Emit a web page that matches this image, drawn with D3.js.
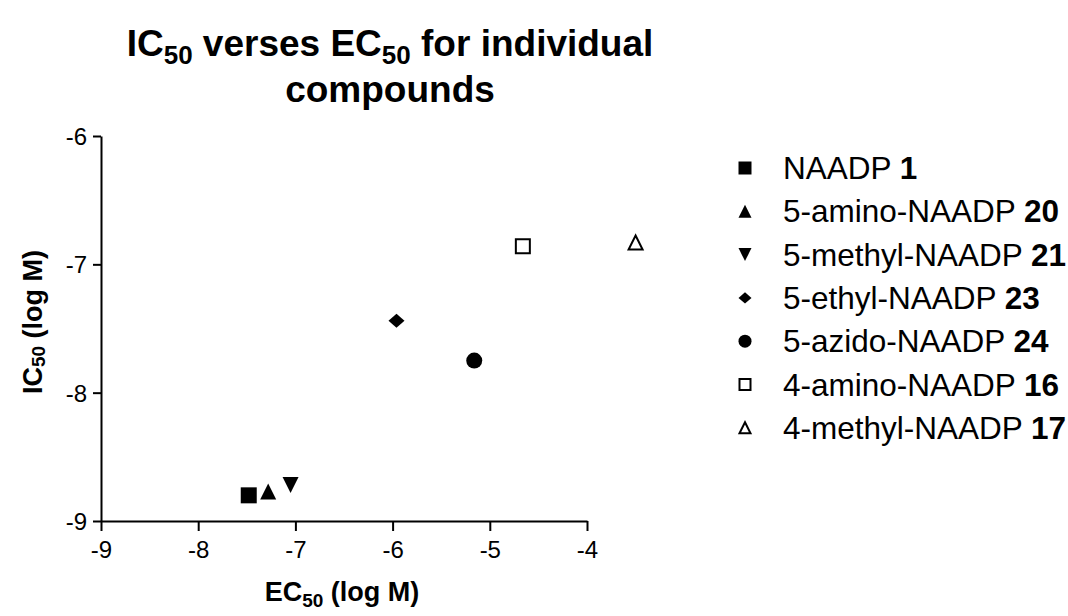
<!DOCTYPE html>
<html>
<head>
<meta charset="utf-8">
<script src="https://cdn.jsdelivr.net/npm/d3@7"></script>
<style>
body { margin: 0; background: #fff; }
text { font-family: Arial, "Liberation Sans", Helvetica, sans-serif; fill: #000; }
</style>
</head>
<body>
<div id="chart"></div>
<script>
var compounds = ["NAADP", "5-amino-NAADP", "5-methyl-NAADP", "5-ethyl-NAADP", "5-azido-NAADP", "4-amino-NAADP", "4-methyl-NAADP"];
var numbers   = ["1", "20", "21", "23", "24", "16", "17"];
var ec50      = [-7.48, -7.28, -7.05, -5.96, -5.16, -4.66, -3.50];
var ic50      = [-8.80, -8.77, -8.72, -7.44, -7.75, -6.86, -6.83];
var shapes    = ["square", "triUp", "triDown", "diamond", "circle", "squareOpen", "triOpen"];
var xTicks    = [-9, -8, -7, -6, -5, -4];
var yTicks    = [-9, -8, -7, -6];

var width = 1068, height = 616;

var svg = d3.select("#chart").append("svg")
    .attr("width", width)
    .attr("height", height);

var x = d3.scaleLinear().domain([-9, -4]).range([101, 587]),
    y = d3.scaleLinear().domain([-9, -6]).range([521, 136]);

// marker shapes, size = side of bounding box squared
var sym = {
  square: {draw: function(c, s) { var r = Math.sqrt(s) / 2; c.rect(-r, -r, 2 * r, 2 * r); }},
  triUp: {draw: function(c, s) { var r = Math.sqrt(s) / 2; c.moveTo(0, -r); c.lineTo(r, r); c.lineTo(-r, r); c.closePath(); }},
  triDown: {draw: function(c, s) { var r = Math.sqrt(s) / 2; c.moveTo(-r, -r); c.lineTo(r, -r); c.lineTo(0, r); c.closePath(); }},
  diamond: {draw: function(c, s) { var r = Math.sqrt(s) / 2, h = r * 0.88; c.moveTo(0, -h); c.lineTo(r, 0); c.lineTo(0, h); c.lineTo(-r, 0); c.closePath(); }},
  circle: {draw: function(c, s) { var r = Math.sqrt(s) / 2; c.moveTo(r, 0); c.arc(0, 0, r, 0, 2 * Math.PI); }}
};
sym.squareOpen = sym.square;
sym.triOpen = sym.triUp;

function isOpen(s) { return s == "squareOpen" || s == "triOpen"; }

function marker(sel, side) {
  sel.attr("d", function(d) {
      var s = isOpen(d) ? side - 2 : side;
      return d3.symbol().type(sym[d]).size(s * s)();
    })
    .attr("fill", function(d) { return isOpen(d) ? "#fff" : "#000"; })
    .attr("stroke", function(d) { return isOpen(d) ? "#000" : "none"; })
    .attr("stroke-width", 2);
}

// title
var title = svg.append("text")
    .attr("text-anchor", "middle")
    .style("font-weight", "bold")
    .style("font-size", "37px");
var t1 = title.append("tspan").attr("x", 390).attr("y", 56);
t1.append("tspan").text("IC");
t1.append("tspan").attr("dy", 8).style("font-size", "26px").text("50");
t1.append("tspan").attr("dy", -8).text(" verses EC");
t1.append("tspan").attr("dy", 8).style("font-size", "26px").text("50");
t1.append("tspan").attr("dy", -8).text(" for individual");
title.append("tspan").attr("x", 390).attr("y", 102).text("compounds");

// axes
var fmt = function(d) { return String(d); };

var gx = svg.append("g")
    .attr("transform", "translate(0," + y(-9) + ")")
    .call(d3.axisBottom(x).tickValues(xTicks).tickFormat(fmt).tickSizeInner(10).tickSizeOuter(0).tickPadding(10));

var gy = svg.append("g")
    .attr("transform", "translate(" + x(-9) + ",0)")
    .call(d3.axisLeft(y).tickValues(yTicks).tickFormat(fmt).tickSizeInner(8).tickSizeOuter(0).tickPadding(6));

[gx, gy].forEach(function(g) {
  g.select(".domain").attr("stroke-width", 2);
  g.selectAll(".tick line").attr("stroke-width", 2);
  g.selectAll(".tick text").style("font-size", "24px").attr("font-family", null);
});
gy.selectAll(".tick text").attr("dy", "0.36em");

// axis titles
var xl = svg.append("text")
    .attr("x", 342).attr("y", 601)
    .attr("text-anchor", "middle")
    .style("font-weight", "bold")
    .style("font-size", "27px");
xl.append("tspan").text("EC");
xl.append("tspan").attr("dy", 6).style("font-size", "19px").text("50");
xl.append("tspan").attr("dy", -6).text(" (log M)");

var yl = svg.append("text")
    .attr("transform", "translate(42,322) rotate(-90)")
    .attr("text-anchor", "middle")
    .style("font-weight", "bold")
    .style("font-size", "27px");
yl.append("tspan").text("IC");
yl.append("tspan").attr("dy", 3).style("font-size", "19px").text("50");
yl.append("tspan").attr("dy", -3).text(" (log M)");

// points
svg.append("g").selectAll("path")
  .data(shapes)
  .join("path")
    .attr("transform", function(d, i) { return "translate(" + x(ec50[i]) + "," + y(ic50[i]) + ")"; })
    .call(marker, 16);

// legend
var legend = svg.append("g").selectAll("g")
  .data(compounds)
  .join("g")
    .attr("transform", function(d, i) { return "translate(745," + (168 + i * 43.3) + ")"; });

legend.append("path")
    .datum(function(d, i) { return shapes[i]; })
    .call(marker, 13);

var lt = legend.append("text")
    .attr("x", 38)
    .attr("y", 11)
    .style("font-size", "31.5px");
lt.append("tspan").text(function(d) { return d + " "; });
lt.append("tspan").style("font-weight", "bold").text(function(d, i) { return numbers[i]; });
</script>
</body>
</html>
